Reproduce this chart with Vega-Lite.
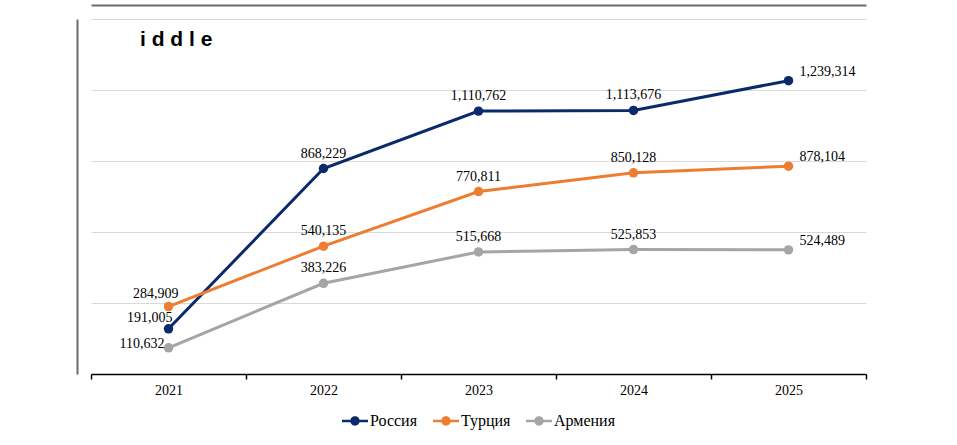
{
  "$schema": "https://vega.github.io/schema/vega-lite/v6.json",
  "autosize": {"type": "none"},
  "padding": {"left": 91, "top": 19, "right": 91, "bottom": 71},
  "width": 775,
  "height": 355,
  "title": {
    "text": "i d d l e",
    "font": "Liberation Sans",
    "fontWeight": "bold",
    "fontSize": 21,
    "color": "black",
    "anchor": "start",
    "frame": "group",
    "offset": -45,
    "dx": 49
  },
  "config": {
    "font": "Liberation Serif",
    "view": {"stroke": null},
    "legend": {"layout": {"bottom": {"anchor": "middle"}}}
  },
  "data": {
    "values": [
      {"year": 2021, "country": "Россия", "value": 191005},
      {"year": 2022, "country": "Россия", "value": 868229},
      {"year": 2023, "country": "Россия", "value": 1110762},
      {"year": 2024, "country": "Россия", "value": 1113676},
      {"year": 2025, "country": "Россия", "value": 1239314},
      {"year": 2021, "country": "Турция", "value": 284909},
      {"year": 2022, "country": "Турция", "value": 540135},
      {"year": 2023, "country": "Турция", "value": 770811},
      {"year": 2024, "country": "Турция", "value": 850128},
      {"year": 2025, "country": "Турция", "value": 878104},
      {"year": 2021, "country": "Армения", "value": 110632},
      {"year": 2022, "country": "Армения", "value": 383226},
      {"year": 2023, "country": "Армения", "value": 515668},
      {"year": 2024, "country": "Армения", "value": 525853},
      {"year": 2025, "country": "Армения", "value": 524489}
    ]
  },
  "encoding": {
    "y": {
      "field": "value",
      "type": "quantitative",
      "scale": {"domain": [0, 1500000], "nice": false},
      "axis": {
        "title": null,
        "labels": false,
        "ticks": false,
        "domain": true,
        "domainColor": "#6b6b6b",
        "domainWidth": 2,
        "offset": 14,
        "grid": true,
        "gridColor": "#d9d9d9",
        "gridWidth": 1,
        "values": [0, 300000, 600000, 900000, 1200000, 1500000]
      }
    }
  },
  "resolve": {"axis": {"x": "independent"}},
  "layer": [
    {
      "mark": {
        "type": "line",
        "strokeWidth": 3,
        "point": {"filled": true, "size": 90, "opacity": 1}
      },
      "encoding": {
        "x": {
          "field": "year",
          "type": "ordinal",
          "bandPosition": 0.5,
          "scale": {"type": "band", "paddingInner": 0, "paddingOuter": 0},
          "axis": {
            "title": null,
            "labelAngle": 0,
            "tickBand": "extent",
            "domainColor": "black",
            "domainWidth": 1.5,
            "tickColor": "black",
            "tickWidth": 1.5,
            "tickSize": 5,
            "labelFont": "Liberation Serif",
            "labelFontSize": 14,
            "labelColor": "black",
            "labelPadding": 4,
            "grid": false
          }
        },
        "color": {
          "field": "country",
          "type": "nominal",
          "scale": {
            "domain": ["Россия", "Турция", "Армения"],
            "range": ["#0b2a6b", "#ed7d31", "#a5a5a5"]
          },
          "legend": {
            "orient": "bottom",
            "direction": "horizontal",
            "title": null,
            "symbolType": "M-1,-0.09L-0.2,-0.09L-0.2,0.09L-1,0.09Z M0.2,-0.09L1,-0.09L1,0.09L0.2,0.09Z M0.36,0A0.36,0.36 0 1,1 -0.36,0A0.36,0.36 0 1,1 0.36,0Z",
            "symbolSize": 676,
            "symbolStrokeWidth": 0,
            "labelFont": "Liberation Serif",
            "labelFontSize": 16,
            "labelColor": "black",
            "labelOffset": 2,
            "columnPadding": 15,
            "offset": 11,
            "encode": {
              "symbols": {"update": {"fill": {"scale": "color", "field": "value"}, "opacity": {"value": 1}}}
            }
          }
        }
      }
    },
    {
      "mark": {"type": "text", "fontSize": 14, "align": "center", "baseline": "alphabetic", "dy": -11, "color": "black"},
      "transform": [{"filter": "datum.year >= 2022 && datum.year <= 2024"}],
      "encoding": {
        "x": {"field": "year", "type": "ordinal", "bandPosition": 0.5, "axis": null},
        "text": {"field": "value", "type": "quantitative", "format": ","}
      }
    },
    {
      "mark": {"type": "text", "fontSize": 14, "align": "left", "baseline": "alphabetic", "dx": 11, "dy": -5, "color": "black"},
      "transform": [{"filter": "datum.year == 2025"}],
      "encoding": {
        "x": {"field": "year", "type": "ordinal", "bandPosition": 0.5, "axis": null},
        "text": {"field": "value", "type": "quantitative", "format": ","}
      }
    },
    {
      "mark": {"type": "text", "fontSize": 14, "align": "right", "baseline": "alphabetic", "dx": 10, "dy": -9, "color": "black"},
      "transform": [{"filter": "datum.year == 2021 && datum.country == 'Турция'"}],
      "encoding": {
        "x": {"field": "year", "type": "ordinal", "bandPosition": 0.5, "axis": null},
        "text": {"field": "value", "type": "quantitative", "format": ","}
      }
    },
    {
      "mark": {"type": "text", "fontSize": 14, "align": "right", "baseline": "alphabetic", "dx": 4, "dy": -7, "color": "black"},
      "transform": [{"filter": "datum.year == 2021 && datum.country == 'Россия'"}],
      "encoding": {
        "x": {"field": "year", "type": "ordinal", "bandPosition": 0.5, "axis": null},
        "text": {"field": "value", "type": "quantitative", "format": ","}
      }
    },
    {
      "mark": {"type": "text", "fontSize": 14, "align": "right", "baseline": "alphabetic", "dx": -4, "dy": 0, "color": "black"},
      "transform": [{"filter": "datum.year == 2021 && datum.country == 'Армения'"}],
      "encoding": {
        "x": {
          "field": "year",
          "type": "ordinal",
          "bandPosition": 0.5,
          "axis": {
            "orient": "top",
            "offset": 14,
            "labels": false,
            "ticks": false,
            "title": null,
            "grid": false,
            "domainColor": "#6b6b6b",
            "domainWidth": 2
          }
        },
        "text": {"field": "value", "type": "quantitative", "format": ","}
      }
    }
  ]
}
